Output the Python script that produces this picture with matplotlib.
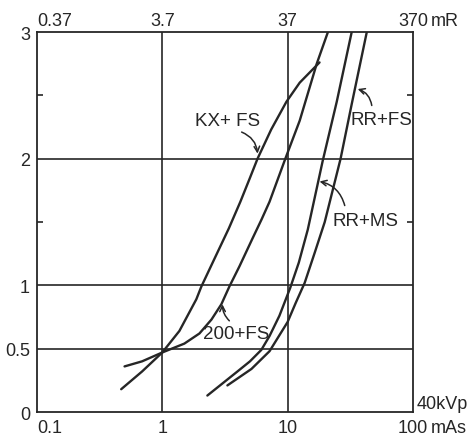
import matplotlib
matplotlib.use("Agg")
import matplotlib.pyplot as plt

# characteristic curves (mAs, optical density)
kx_fs_mas = [0.47, 0.69, 1.0, 1.37, 1.87, 2.05, 2.61, 3.4, 4.2, 4.97, 5.76, 7.4, 9.8, 12.5, 18.0]
kx_fs_od = [0.18, 0.32, 0.47, 0.64, 0.89, 0.99, 1.21, 1.45, 1.66, 1.84, 2.0, 2.23, 2.45, 2.60, 2.76]

fs200_mas = [0.50, 0.69, 1.0, 1.50, 1.98, 2.47, 2.96, 3.43, 4.13, 5.25, 6.2, 7.18, 9.6, 12.5, 17.1, 21.0]
fs200_od = [0.36, 0.40, 0.47, 0.54, 0.62, 0.73, 0.85, 0.99, 1.15, 1.37, 1.52, 1.66, 2.0, 2.30, 2.75, 3.0]

rr_ms_mas = [2.29, 3.98, 5.01, 6.17, 7.18, 8.61, 10.5, 12.3, 14.5, 19.05, 24.7, 32.5]
rr_ms_od = [0.13, 0.32, 0.40, 0.49, 0.60, 0.76, 0.98, 1.18, 1.44, 1.98, 2.45, 3.0]

rr_fs_mas = [3.31, 5.15, 7.18, 10.0, 11.6, 13.7, 16.5, 19.8, 26.5, 32.5, 42.9]
rr_fs_od = [0.21, 0.34, 0.48, 0.71, 0.86, 1.02, 1.26, 1.50, 2.0, 2.43, 3.0]

mas_ticks = [0.1, 1, 10, 100]
mas_labels = ["0.1", "1", "10", "100"]
mr_labels = ["0.37", "3.7", "37", "370"]
od_ticks = [0, 0.5, 1, 2, 3]
od_labels = ["0", "0.5", "1", "2", "3"]

ink = "#262626"
plt.rcParams["font.family"] = ["Liberation Sans", "DejaVu Sans"]
fs = 13

fig = plt.figure(figsize=(4.74, 4.39), dpi=100)
ax = fig.add_axes([0.078, 0.0592, 0.793, 0.8656])

ax.set_xscale("log")
ax.set_xlim(0.1, 100)
ax.set_ylim(0, 3)

# grid only at the labelled values
for v in [1, 10]:
    ax.axvline(v, color=ink, lw=1.2)
for v in [0.5, 1, 2]:
    ax.axhline(v, color=ink, lw=1.2)

for xs, ys in [(kx_fs_mas, kx_fs_od), (fs200_mas, fs200_od),
               (rr_ms_mas, rr_ms_od), (rr_fs_mas, rr_fs_od)]:
    ax.plot(xs, ys, color=ink, lw=1.7, solid_capstyle="round", solid_joinstyle="round")

for s in ax.spines.values():
    s.set_color(ink)
    s.set_linewidth(1.3)

ax.set_xticks(mas_ticks)
ax.set_xticklabels(mas_labels)
ax.set_xticks([], minor=True)
ax.set_yticks(od_ticks)
ax.set_yticklabels(od_labels)
ax.set_yticks([1.5, 2.5], minor=True)
ax.tick_params(axis="both", which="major", length=0, labelsize=fs, colors=ink)
ax.tick_params(axis="x", which="major", pad=5)
ax.tick_params(axis="y", which="major", pad=5)
ax.tick_params(axis="y", which="minor", direction="in", length=4, width=1.2,
               left=True, right=True, colors=ink)
ax.get_xticklabels()[0].set_ha("left")

top = ax.secondary_xaxis("top")
top.set_xticks(mas_ticks)
top.set_xticklabels(mr_labels)
top.set_xticks([], minor=True)
top.tick_params(length=0, labelsize=fs, pad=2, colors=ink)
top.get_xticklabels()[0].set_ha("left")
top.spines["top"].set_visible(False)

# unit labels next to the last tick values
ax.annotate("mR", xy=(100, 1), xycoords=("data", "axes fraction"),
            xytext=(13, 2), textcoords="offset points", fontsize=fs,
            color=ink, ha="left", va="bottom")
ax.annotate("mAs", xy=(100, 0), xycoords=("data", "axes fraction"),
            xytext=(13, -5), textcoords="offset points", fontsize=fs,
            color=ink, ha="left", va="top")
ax.annotate("40kVp", xy=(1, 0), xycoords="axes fraction",
            xytext=(3, 0), textcoords="offset points", fontsize=fs,
            color=ink, ha="left", va="bottom")

# curve labels with curved arrows
arrow = dict(arrowstyle="->", color=ink, lw=1.1, shrinkA=0, shrinkB=0)
labels = [
    ("KX+ FS", (3.3, 2.30), (4.3, 2.21), (5.76, 2.04), -0.3),
    ("200+FS", (3.9, 0.62), (3.43, 0.72), (3.02, 0.85), -0.2),
    ("RR+FS", (56, 2.31), (47, 2.42), (36.3, 2.55), 0.3),
    ("RR+MS", (42, 1.515), (28.6, 1.63), (18.0, 1.82), 0.3),
]
for text, pos, start, end, rad in labels:
    ax.text(pos[0], pos[1], text, fontsize=13.5, color=ink, ha="center", va="center")
    ax.annotate("", xy=end, xytext=start,
                arrowprops=dict(arrow, connectionstyle=f"arc3,rad={rad}"))

fig.savefig("out.png", dpi=100)
